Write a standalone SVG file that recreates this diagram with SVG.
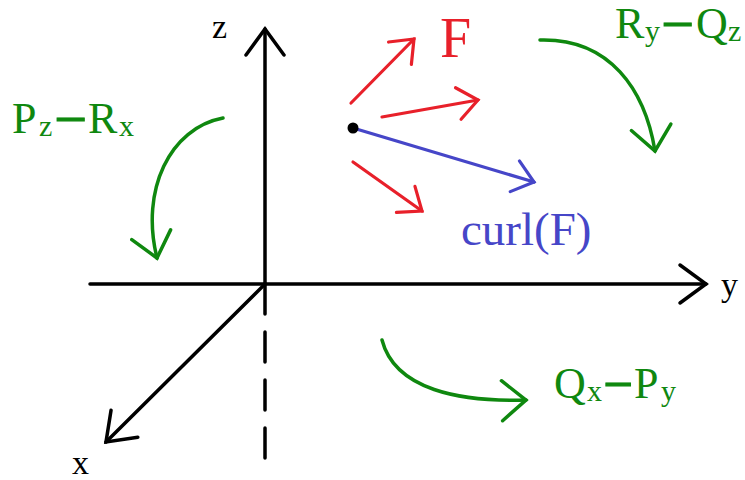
<svg xmlns="http://www.w3.org/2000/svg" width="745" height="480" viewBox="0 0 745 480">
<style>
.ax{stroke:#000;stroke-width:3.5;fill:none;stroke-linecap:round}
.red{stroke:#e8202a;stroke-width:3.2;fill:none;stroke-linecap:round}
.blue{stroke:#4646c8;stroke-width:3.2;fill:none;stroke-linecap:round}
.grn{stroke:#0f880f;stroke-width:3.5;fill:none;stroke-linecap:round}
.gt{fill:#0f880f;font-size:44px}
.sub{font-size:30px}
.mn{font-weight:bold;stroke:#0f880f;stroke-width:1}
.al{fill:#000;font-size:34px}
</style>
<defs>
<marker id="hk" markerUnits="userSpaceOnUse" markerWidth="60" markerHeight="60" refX="0" refY="0" viewBox="-40 -30 60 60" orient="auto" overflow="visible">
<path d="M-26,-19 L0,0 L-26,19" fill="none" stroke="#000" stroke-width="3.5" stroke-linecap="round" stroke-linejoin="miter"/>
</marker>
<marker id="hr" markerUnits="userSpaceOnUse" markerWidth="60" markerHeight="60" refX="0" refY="0" viewBox="-40 -30 60 60" orient="auto" overflow="visible">
<path d="M-20,-16 L0,0 L-20,16" fill="none" stroke="#e8202a" stroke-width="3.2" stroke-linecap="round"/>
</marker>
<marker id="hb" markerUnits="userSpaceOnUse" markerWidth="60" markerHeight="60" refX="0" refY="0" viewBox="-40 -30 60 60" orient="auto" overflow="visible">
<path d="M-20,-16 L0,0 L-20,16" fill="none" stroke="#4646c8" stroke-width="3.2" stroke-linecap="round"/>
</marker>
<marker id="hg" markerUnits="userSpaceOnUse" markerWidth="60" markerHeight="60" refX="0" refY="0" viewBox="-40 -30 60 60" orient="auto" overflow="visible">
<path d="M-24,-20 L0,0 L-24,20" fill="none" stroke="#0f880f" stroke-width="3.5" stroke-linecap="round"/>
</marker>
</defs>
<rect width="745" height="480" fill="#fff"/>
<g id="axes" font-family="'Liberation Serif', serif">
<line class="ax" x1="265" y1="284" x2="265" y2="29" marker-end="url(#hk)"/>
<line class="ax" x1="90" y1="284" x2="706" y2="284" marker-end="url(#hk)"/>
<line class="ax" x1="265" y1="284" x2="106" y2="442" marker-end="url(#hk)"/>
<line class="ax" x1="265" y1="284" x2="265" y2="460" stroke-dasharray="30 18" stroke-linecap="butt"/>
<text class="al" x="212" y="38">z</text>
<text class="al" x="721" y="296">y</text>
<text class="al" x="72" y="474">x</text>
</g>
<g id="field-F" font-family="'Liberation Serif', serif">
<line class="red" x1="351" y1="103" x2="414" y2="39" marker-end="url(#hr)"/>
<line class="red" x1="382" y1="117" x2="478" y2="100" marker-end="url(#hr)"/>
<line class="red" x1="353" y1="162" x2="422" y2="211" marker-end="url(#hr)"/>
<text x="440" y="57" fill="#e8202a" font-size="56">F</text>
</g>
<g id="curl-F" font-family="'Liberation Serif', serif">
<line class="blue" x1="353" y1="128" x2="534" y2="182" marker-end="url(#hb)"/>
<circle cx="353" cy="128" r="5.5" fill="#000"/>
<text x="461" y="245" fill="#4646c8" font-size="47">curl(F)</text>
</g>
<g id="label-PzRx" font-family="'Liberation Serif', serif">
<text class="gt" y="133"><tspan x="12">P</tspan><tspan class="sub" x="39" dy="3">z</tspan><tspan class="mn" x="54" dy="-2" textLength="33" lengthAdjust="spacingAndGlyphs">−</tspan><tspan x="88" dy="-1">R</tspan><tspan class="sub" x="119" dy="3">x</tspan></text>
</g>
<g id="label-RyQz" font-family="'Liberation Serif', serif">
<text class="gt" y="38"><tspan x="615">R</tspan><tspan class="sub" x="645" dy="3">y</tspan><tspan class="mn" x="661" dy="-2" textLength="33" lengthAdjust="spacingAndGlyphs">−</tspan><tspan x="696" dy="-1">Q</tspan><tspan class="sub" x="728" dy="3">z</tspan></text>
</g>
<g id="label-QxPy" font-family="'Liberation Serif', serif">
<text class="gt" y="398"><tspan x="554">Q</tspan><tspan class="sub" x="587" dy="3">x</tspan><tspan class="mn" x="603" dy="-2" textLength="30" lengthAdjust="spacingAndGlyphs">−</tspan><tspan x="634" dy="-1">P</tspan><tspan class="sub" x="661" dy="3">y</tspan></text>
</g>
<g id="connectors">
<path class="grn" d="M223,118 C170,128 140,190 157,258" marker-end="url(#hg)"/>
<path class="grn" d="M540,40 C610,38 645,90 655,151" marker-end="url(#hg)"/>
<path class="grn" d="M382,340 C395,390 460,402 526,400" marker-end="url(#hg)"/>
</g>
</svg>
